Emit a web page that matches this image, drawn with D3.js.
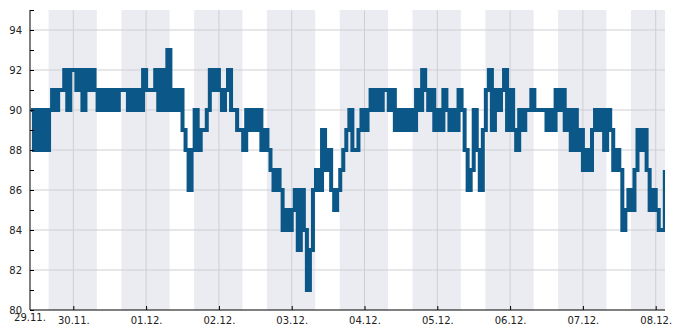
<!DOCTYPE html>
<html>
<head>
<meta charset="utf-8">
<script src="https://cdn.jsdelivr.net/npm/d3@7"></script>
<style>
  body { margin: 0; background: #fff; }
  text { font-family: "DejaVu Sans", sans-serif; }
</style>
</head>
<body>
<div id="chart-area"></div>
<script>
// hourly readings, first one at 29.11. 10:00
var startTime = new Date(2023, 10, 29, 10, 0)
var readings = [
  90, 88, 90, 88, 90, 88, 90, 91, 90, 91, 91, 92, 90, 92, 92, 91, 92, 90, 92, 91, 92, 91, 90, 91,
  90, 91, 90, 91, 90, 91, 91, 91, 90, 91, 90, 91, 90, 92, 91, 91, 91, 92, 90, 92, 90, 93, 90, 91,
  90, 91, 89, 88, 86, 88, 90, 88, 89, 89, 90, 92, 91, 92, 91, 90, 91, 92, 90, 90, 89, 89, 88, 90,
  89, 90, 89, 90, 88, 89, 88, 87, 86, 87, 86, 84, 85, 84, 85, 86, 83, 86, 84, 81, 83, 86, 87, 86,
  89, 87, 88, 86, 85, 86, 87, 88, 89, 90, 88, 88, 89, 90, 89, 90, 91, 90, 91, 90, 91, 91, 90, 91,
  89, 90, 89, 90, 89, 90, 89, 91, 90, 92, 91, 90, 91, 89, 90, 89, 91, 90, 89, 90, 89, 91, 90, 88,
  86, 87, 90, 88, 86, 89, 91, 92, 89, 91, 90, 91, 92, 89, 91, 89, 88, 90, 89, 90, 90, 91, 90, 90,
  90, 90, 89, 90, 89, 91, 90, 91, 89, 90, 88, 90, 88, 89, 87, 88, 87, 89, 90, 89, 90, 88, 90, 89,
  87, 88, 87, 84, 85, 86, 85, 87, 89, 88, 89, 87, 85, 86, 85, 84, 84, 87
]

// shaded evening/night periods (start day of each, month index 10 = Nov)
var nightDays = [
  [2023, 10, 29], [2023, 10, 30], [2023, 11, 1], [2023, 11, 2], [2023, 11, 3],
  [2023, 11, 4], [2023, 11, 5], [2023, 11, 6], [2023, 11, 7]
]
var nightFrom = [15, 50]   // hh, mm
var nightTo = [7, 45]      // next morning

var dayTicks = ["30.11.", "01.12.", "02.12.", "03.12.", "04.12.", "05.12.", "06.12.", "07.12.", "08.12."]
var firstLabel = "29.11."
var yTicks = [80, 82, 84, 86, 88, 90, 92, 94]

var margin = { left: 30, right: 20, top: 10, bottom: 20 }
var width = 685 - margin.left - margin.right,
    height = 330 - margin.top - margin.bottom

var svg = d3.select("#chart-area").append("svg")
    .attr("width", 685)
    .attr("height", 330)
var g = svg.append("g")
    .attr("transform", "translate(" + margin.left + "," + margin.top + ")")

var x = d3.scaleTime()
  .domain([new Date(2023, 10, 29, 9, 43), new Date(2023, 11, 8, 3, 4)])
  .range([0, width])

var y = d3.scaleLinear()
  .domain([80, 95])
  .range([height, 0])

var data = readings.map(function(v, i) {
  return { t: d3.timeHour.offset(startTime, i), v: v }
})

g.append("clipPath").attr("id", "clip")
  .append("rect").attr("width", width).attr("height", height)

// night bands
g.append("g").attr("clip-path", "url(#clip)")
  .selectAll("rect")
  .data(nightDays)
  .enter().append("rect")
    .attr("x", function(d) { return x(new Date(d[0], d[1], d[2], nightFrom[0], nightFrom[1])) })
    .attr("width", function(d) {
      var a = new Date(d[0], d[1], d[2], nightFrom[0], nightFrom[1])
      var b = new Date(d[0], d[1], d[2] + 1, nightTo[0], nightTo[1])
      return x(b) - x(a)
    })
    .attr("y", 0)
    .attr("height", height)
    .attr("fill", "#ebecf1")

var tickDates = dayTicks.map(function(s) {
  var p = s.split(".")
  return new Date(2023, +p[1] - 1, +p[0])
})

// grid
g.append("g").selectAll("line")
  .data(yTicks.slice(1))
  .enter().append("line")
    .attr("x1", 0).attr("x2", width)
    .attr("y1", function(d) { return y(d) }).attr("y2", function(d) { return y(d) })
    .attr("stroke", "#cfcfd3")
g.append("g").selectAll("line")
  .data(tickDates)
  .enter().append("line")
    .attr("x1", function(d) { return x(d) }).attr("x2", function(d) { return x(d) })
    .attr("y1", 0).attr("y2", height)
    .attr("stroke", "#cfcfd3")

// the line
var line = d3.line()
  .x(function(d) { return x(d.t) })
  .y(function(d) { return y(d.v) })
  .curve(d3.curveStepAfter)

g.append("path")
  .datum(data)
  .attr("clip-path", "url(#clip)")
  .attr("fill", "none")
  .attr("stroke", "#0b5787")
  .attr("stroke-width", 4)
  .attr("stroke-linejoin", "miter")
  .attr("d", line)

// y axis
var yAxisCall = d3.axisLeft(y)
  .tickValues(d3.range(80, 96))
  .tickSize(-4)
  .tickPadding(8)
  .tickFormat(function(d) { return yTicks.indexOf(d) >= 0 ? d : "" })
var yAxisGroup = g.append("g").call(yAxisCall)
yAxisGroup.select(".domain").attr("d", "M0,0V" + height).attr("stroke", "#000")
yAxisGroup.selectAll(".tick line").attr("stroke", "#000")
yAxisGroup.selectAll("text")
  .attr("font-size", "10px")
  .attr("fill", "#222")
  .attr("font-family", "DejaVu Sans")

// x axis
var xAxisCall = d3.axisBottom(x)
  .tickValues(tickDates)
  .tickSize(-4)
  .tickPadding(7)
  .tickFormat(function(d, i) { return dayTicks[i] })
var xAxisGroup = g.append("g")
  .attr("transform", "translate(0," + height + ")")
  .call(xAxisCall)
xAxisGroup.select(".domain").attr("d", "M0,0H" + width).attr("stroke", "#000")
xAxisGroup.selectAll(".tick line").attr("stroke", "#000")
xAxisGroup.selectAll("text")
  .attr("font-size", "10px")
  .attr("fill", "#222")
  .attr("font-family", "DejaVu Sans")

// label at the start of the time axis
g.append("text")
  .attr("x", 0)
  .attr("y", height + 11)
  .attr("text-anchor", "middle")
  .attr("font-size", "10px")
  .attr("fill", "#222")
  .text(firstLabel)
</script>
</body>
</html>
